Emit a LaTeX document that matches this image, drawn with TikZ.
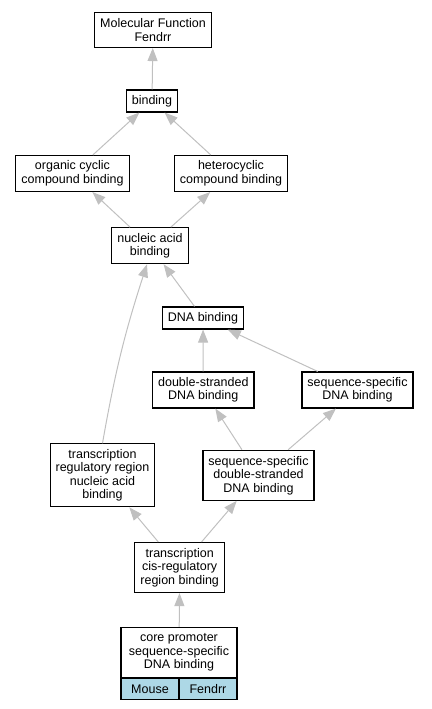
\documentclass[tikz,border=0pt]{standalone}
\usepackage{fontspec}
\setmainfont{Liberation Sans}
\usetikzlibrary{arrows.meta}

\definecolor{edgegray}{HTML}{C0C0C0}
\definecolor{taxonblue}{HTML}{ADD8E6}

\begin{document}
\begin{tikzpicture}[x=1pt,y=-1pt]

      \useasboundingbox (0,0) rectangle (431,709);

      \begin{scope}[every node/.style={draw,line width=1.1pt,align=center,inner xsep=5.5pt,inner ysep=0pt,
                                       font=\fontsize{12.5}{13.5}\selectfont}]
        \node[minimum height=35pt] (mf)      at (153,30)      {Molecular Function\\Fendrr};
        \node[minimum height=22pt] (binding) at (152,101)     {binding};
        \node[minimum height=36pt] (organic) at (72.5,173.5)  {organic cyclic\\compound binding};
        \node[minimum height=36pt] (hetero)  at (231,173.5)   {heterocyclic\\compound binding};
        \node[minimum height=36pt] (nucleic) at (150,245.7)   {nucleic acid\\binding};
        \node[minimum height=22pt] (dnab)    at (203,318)     {DNA binding};
        \node[minimum height=36pt] (ds)      at (203.3,390)   {double-stranded\\DNA binding};
        \node[minimum height=36pt] (ss)      at (357.5,390)   {sequence-specific\\DNA binding};
        \node[minimum height=63pt] (treg)    at (102.5,475.3) {transcription\\regulatory region\\nucleic acid\\binding};
        \node[minimum height=50pt] (ssds)    at (258.5,475.3) {sequence-specific\\double-stranded\\DNA binding};
        \node[minimum height=50pt] (cis)     at (179.7,567.5) {transcription\\cis-regulatory\\region binding};
        \node[minimum height=50pt,minimum width=116pt] (core) at (179,652.5)
              {core promoter\\sequence-specific\\DNA binding};
        \node[fill=taxonblue,minimum height=21pt,minimum width=58pt,anchor=north west]
              (mouse) at (core.south west) {Mouse};
        \node[fill=taxonblue,minimum height=21pt,minimum width=58pt,anchor=north east]
              (fendrr) at (core.south east) {Fendrr};
      \end{scope}

      \begin{scope}[every edge/.style={draw,edgegray,line width=1pt,-{Triangle[length=13pt,width=10pt]}}]
        \path (binding) edge (mf);
        \path (organic) edge (binding);
        \path (hetero)  edge (binding);
        \path (nucleic) edge (organic);
        \path (nucleic) edge (hetero);
        \path (dnab)    edge (nucleic);
        \path (treg.north) edge[bend left=4] (nucleic.south -| 147,0);
        \path (ds)      edge (dnab);
        \path (ss)      edge (dnab);
        \path (ssds)    edge (ds);
        \path (ssds)    edge (ss);
        \path (cis)     edge (treg);
        \path (cis)     edge (ssds);
        \path (core)    edge (cis);
      \end{scope}

    \end{tikzpicture}
\end{document}
